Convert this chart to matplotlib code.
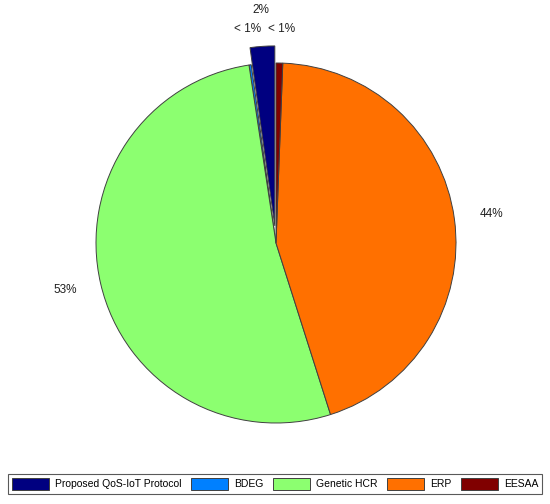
import matplotlib.pyplot as plt

plt.rcParams['font.family'] = ['Liberation Sans', 'DejaVu Sans']

names = ["Proposed QoS-IoT Protocol", "BDEG", "Genetic HCR", "ERP", "EESAA"]
shares = [2.2, 0.2, 52.5, 44.5, 0.6]
pct_text = ["2%", "< 1%", "53%", "44%", "< 1%"]
colors = ["#000080", "#0080FF", "#8CFF70", "#FF7000", "#800000"]
explode = [0.095, 0, 0, 0, 0]

# pie geometry in pixels (centre and radius in the 550x504 picture)
cx, cy, r = 276, 243, 180

fig = plt.figure(figsize=(5.5, 5.04), dpi=100)
ax = fig.add_axes([0, 0, 1, 1])

wedges, texts = ax.pie(shares, colors=colors, explode=explode, labels=pct_text,
                       startangle=90, counterclock=True,
                       wedgeprops=dict(edgecolor="#404040", linewidth=0.7),
                       textprops=dict(fontsize=8.5, color="#202020"))

# label spots, in pixels
label_px = [(261, 10), (248, 29), (65, 290), (492, 214), (282, 29)]
for t, (px, py) in zip(texts, label_px):
    t.set_position(((px - cx) / r, (cy - py) / r))
    t.set_ha("center")
    t.set_va("center")

ax.set_xlim(-cx / r, (550 - cx) / r)
ax.set_ylim(-(504 - cy) / r, cy / r)
ax.axis("off")

leg = fig.legend(wedges, names, loc="center", bbox_to_anchor=(275 / 550, 1 - 484 / 504),
                 ncol=5, fontsize=7.5, frameon=True, fancybox=False,
                 edgecolor="#303030", handlelength=3.6, handleheight=1.35,
                 handletextpad=0.55, columnspacing=0.9, borderpad=0.4)
leg.get_frame().set_linewidth(0.8)

plt.savefig("out.png", dpi=100)
